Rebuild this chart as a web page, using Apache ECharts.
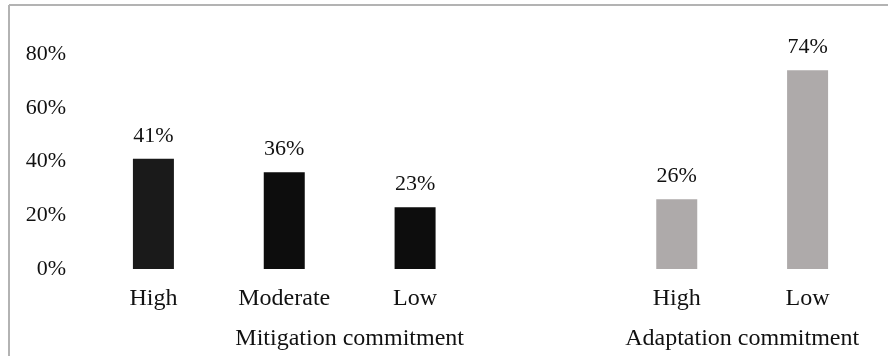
<!DOCTYPE html>
<html>
<head>
<meta charset="utf-8">
<script src="https://cdn.jsdelivr.net/npm/echarts@6/dist/echarts.min.js"></script>
<style>
  html, body { margin: 0; padding: 0; background: #fff; }
  #chart { width: 888px; height: 356px; }
</style>
</head>
<body>
<div id="chart"></div>
<script>
// Share of commitments by level, grouped by mitigation / adaptation
const categories = ['High', 'Moderate', 'Low', '', 'High', 'Low'];
const shares = [41, 36, 23, null, 26, 74];
const barColors = ['#1a1a1a', '#0d0d0d', '#0d0d0d', '#0d0d0d', '#aeaaaa', '#aeaaaa'];
const yTicks = { min: 0, max: 80, interval: 20 };
// group captions: name plus the category span they sit under (start index, end index)
const groupNames = ['Mitigation commitment', 'Adaptation commitment'];
const groupSpans = [[0, 3], [4, 5]];

const FONT = '"Liberation Serif", "Times New Roman", serif';
const chart = echarts.init(document.getElementById('chart'));

const option = {
  animation: false,
  grid: { left: 88, right: 15, top: 54, bottom: 87 },
  xAxis: {
    type: 'category',
    data: categories,
    axisLine: { show: false },
    axisTick: { show: false },
    axisLabel: { color: '#111', fontFamily: FONT, fontSize: 24, margin: 18, interval: 0 }
  },
  yAxis: {
    type: 'value',
    min: yTicks.min,
    max: yTicks.max,
    interval: yTicks.interval,
    splitLine: { show: false },
    axisLine: { show: false },
    axisTick: { show: false },
    axisLabel: {
      color: '#111', fontFamily: FONT, fontSize: 22, margin: 22,
      padding: [14, 0, 0, 0],
      formatter: '{value}%'
    }
  },
  series: [{
    type: 'bar',
    barWidth: 41,
    data: shares.map((v, i) => ({ value: v, itemStyle: { color: barColors[i] } })),
    label: {
      show: true,
      position: 'top',
      distance: 12,
      color: '#111',
      fontFamily: FONT,
      fontSize: 22,
      formatter: p => p.value + '%'
    }
  }]
};
chart.setOption(option);

// frame lines along the top and left edges, plus the group captions
const captionY = 339;
const captions = groupNames.map((name, g) => {
  const a = chart.convertToPixel({ xAxisIndex: 0 }, groupSpans[g][0]);
  const b = chart.convertToPixel({ xAxisIndex: 0 }, groupSpans[g][1]);
  return {
    type: 'text',
    x: (a + b) / 2,
    y: captionY,
    style: {
      text: name,
      fill: '#111',
      font: '24px ' + FONT,
      align: 'center',
      verticalAlign: 'middle'
    }
  };
});

chart.setOption({
  graphic: [
    { type: 'line', shape: { x1: 9, y1: 5, x2: 888, y2: 5 }, style: { stroke: '#b3b3b3', lineWidth: 2 } },
    { type: 'line', shape: { x1: 9, y1: 5, x2: 9, y2: 356 }, style: { stroke: '#b3b3b3', lineWidth: 2 } }
  ].concat(captions)
});
</script>
</body>
</html>
